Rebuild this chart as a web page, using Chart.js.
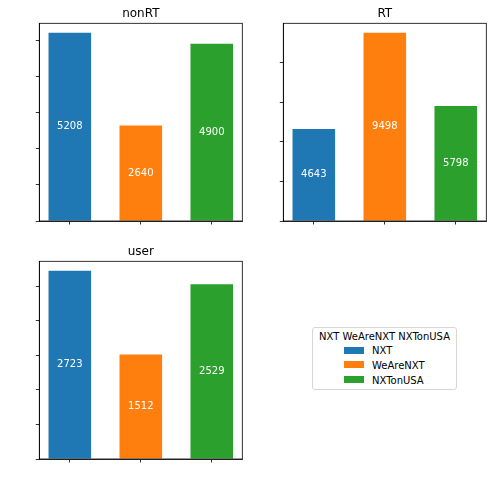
<!DOCTYPE html>
<html>
<head>
<meta charset="utf-8">
<script src="https://cdn.jsdelivr.net/npm/chart.js@4"></script>
<style>
  body { margin: 0; background: #fff; width: 496px; height: 482px; position: relative; overflow: hidden; }
  canvas { position: absolute; }
  #legend {
    position: absolute; left: 312px; top: 327px; width: 143px; height: 61px;
    border: 1px solid #d6d6d6; border-radius: 3px; background: #fff;
    font-family: "DejaVu Sans", sans-serif; font-size: 10px; color: #000;
  }
  #legend .title { position: absolute; left: 0; right: 0; top: 3px; text-align: center; white-space: nowrap; }
  #legend .row { position: absolute; left: 31px; height: 12px; line-height: 12px; white-space: nowrap; }
  #legend .sw { display: inline-block; width: 20px; height: 7px; vertical-align: middle; margin-right: 8px; position: relative; top: -1px; }
</style>
</head>
<body>
<canvas id="nonRT" width="248" height="241" style="left:0;top:0"></canvas>
<canvas id="RT" width="248" height="241" style="left:244px;top:0"></canvas>
<canvas id="user" width="248" height="241" style="left:0;top:237.5px"></canvas>
<div id="legend"></div>

<script>
const categories = ["NXT", "WeAreNXT", "NXTonUSA"];
const colors = ["#1f77b4", "#ff7f0e", "#2ca02c"];

const nonRTValues = [5208, 2640, 4900];
const rtValues = [4643, 9498, 5798];
const userValues = [2723, 1512, 2529];

// y tick spacing for each panel (labels are hidden in the original)
const nonRTStep = 1000;
const rtStep = 2000;
const userStep = 500;

// white number in the middle of each bar
const barLabels = {
  id: "barLabels",
  afterDatasetsDraw(chart) {
    const ctx = chart.ctx;
    const meta = chart.getDatasetMeta(0);
    ctx.save();
    ctx.fillStyle = "#fff";
    ctx.font = '10px "DejaVu Sans"';
    ctx.textAlign = "center";
    ctx.textBaseline = "middle";
    meta.data.forEach((bar, i) => {
      const v = chart.data.datasets[0].data[i].y;
      ctx.fillText(String(v), bar.x, (bar.y + bar.base) / 2);
    });
    ctx.restore();
  }
};

// full box around the plot area + title centred over it
const frame = {
  id: "frame",
  afterDraw(chart, args, opts) {
    const a = chart.chartArea;
    const ctx = chart.ctx;
    ctx.save();
    ctx.strokeStyle = "#000";
    ctx.lineWidth = 0.8;
    ctx.strokeRect(a.left, a.top, a.right - a.left, a.bottom - a.top);
    ctx.fillStyle = "#000";
    ctx.font = '12px "DejaVu Sans"';
    ctx.textAlign = "center";
    ctx.textBaseline = "alphabetic";
    ctx.fillText(opts.text, (a.left + a.right) / 2, a.top - 6);
    ctx.restore();
  }
};

function renderPanel(id, title, values, step) {
  const ctx = document.getElementById(id);
  if (!ctx) return;

  const points = values.map((v, i) => ({ x: i, y: v }));
  const top = Math.max(...values) * 1.05;

  new Chart(ctx, {
    type: "bar",
    data: {
      datasets: [
        {
          label: title,
          data: points,
          backgroundColor: colors,
          borderWidth: 0,
          barPercentage: 0.6,
          categoryPercentage: 1,
        },
      ],
    },
    options: {
      responsive: false,
      animation: false,
      layout: { padding: { left: 0, right: 5.7, top: 23.3, bottom: 0 } },
      plugins: {
        legend: { display: false },
        tooltip: { enabled: false },
        title: { display: false },
        frame: { text: title },
      },
      scales: {
        x: {
          type: "linear",
          min: -0.43,
          max: 2.43,
          offset: false,
          grid: { offset: false, drawOnChartArea: false, drawTicks: true, tickLength: 3.5, color: "#000", lineWidth: 0.8 },
          border: { display: true, color: "#000", width: 0.8 },
          ticks: { display: false },
          afterBuildTicks: (scale) => {
            scale.ticks = categories.map((c, i) => ({ value: i }));
          },
          afterFit: (scale) => { scale.height = 20; },
        },
        y: {
          min: 0,
          max: top,
          grid: { drawOnChartArea: false, drawTicks: true, tickLength: 3.5, color: "#000", lineWidth: 0.8 },
          border: { display: true, color: "#000", width: 0.8 },
          ticks: { display: false },
          afterBuildTicks: (scale) => {
            const t = [];
            for (let v = 0; v <= top; v += step) t.push({ value: v });
            scale.ticks = t;
          },
          afterFit: (scale) => { scale.width = 39.3; },
        },
      },
    },
    plugins: [barLabels, frame],
  });
}

renderPanel("nonRT", "nonRT", nonRTValues, nonRTStep);
renderPanel("RT", "RT", rtValues, rtStep);
renderPanel("user", "user", userValues, userStep);

// legend box in the empty fourth panel
const legend = document.getElementById("legend");
let html = '<div class="title">' + categories.join(" ") + "</div>";
categories.forEach((c, i) => {
  html += '<div class="row" style="top:' + (17 + i * 14.8) + 'px"><span class="sw" style="background:' +
    colors[i] + '"></span>' + c + "</div>";
});
legend.innerHTML = html;
</script>
</body>
</html>
